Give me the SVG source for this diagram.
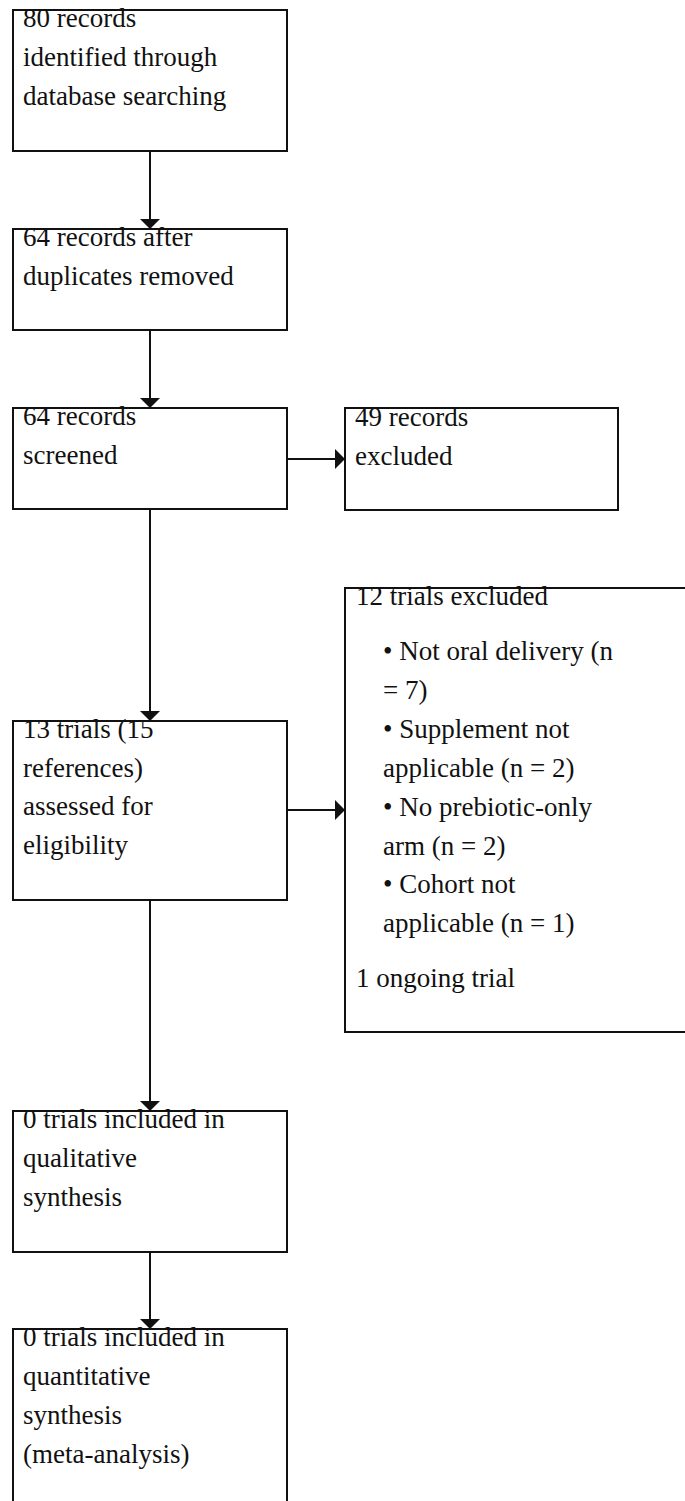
<svg xmlns="http://www.w3.org/2000/svg" width="685" height="1501" viewBox="0 0 685 1501">
<style>
.t{font-family:"Liberation Serif","Times New Roman",serif;font-size:27px;fill:#111}
.b{fill:none;stroke:#111;stroke-width:2}
.c{fill:none;stroke:#111;stroke-width:2}
</style>
<defs>
<marker id="ah" markerUnits="userSpaceOnUse" markerWidth="10" markerHeight="20" refX="10" refY="10" orient="auto">
<path d="M0,0 L10,10 L0,20 Z" fill="#111"/>
</marker>
</defs>
<rect x="0" y="0" width="685" height="1501" fill="#fff"/>
<g id="connectors">
<line class="c" x1="150" y1="151" x2="150" y2="229" marker-end="url(#ah)"/>
<line class="c" x1="150" y1="330" x2="150" y2="408" marker-end="url(#ah)"/>
<line class="c" x1="287" y1="459" x2="345" y2="459" marker-end="url(#ah)"/>
<line class="c" x1="150" y1="509" x2="150" y2="721" marker-end="url(#ah)"/>
<line class="c" x1="287" y1="810" x2="345" y2="810" marker-end="url(#ah)"/>
<line class="c" x1="150" y1="900" x2="150" y2="1111" marker-end="url(#ah)"/>
<line class="c" x1="150" y1="1252" x2="150" y2="1329" marker-end="url(#ah)"/>
</g>
<g id="n1">
<text class="t" x="23" y="27">80 records</text>
<text class="t" x="23" y="66">identified through</text>
<text class="t" x="23" y="105">database searching</text>
<rect class="b" x="13" y="10" width="274" height="141"/>
</g>
<g id="n2">
<text class="t" x="23" y="246">64 records after</text>
<text class="t" x="23" y="285">duplicates removed</text>
<rect class="b" x="13" y="229" width="274" height="101"/>
</g>
<g id="n3">
<text class="t" x="23" y="425">64 records</text>
<text class="t" x="23" y="464">screened</text>
<rect class="b" x="13" y="408" width="274" height="101"/>
</g>
<g id="n4">
<text class="t" x="355" y="426">49 records</text>
<text class="t" x="355" y="465">excluded</text>
<rect class="b" x="345" y="408" width="273" height="102"/>
</g>
<g id="n5">
<text class="t" x="23" y="738">13 trials (15</text>
<text class="t" x="23" y="777">references)</text>
<text class="t" x="23" y="815">assessed for</text>
<text class="t" x="23" y="854">eligibility</text>
<rect class="b" x="13" y="721" width="274" height="179"/>
</g>
<g id="n6">
<text class="t" x="356" y="605">12 trials excluded</text>
<text class="t" x="383" y="660">• Not oral delivery (n</text>
<text class="t" x="383" y="699">= 7)</text>
<text class="t" x="383" y="738">• Supplement not</text>
<text class="t" x="383" y="777">applicable (n = 2)</text>
<text class="t" x="383" y="816">• No prebiotic-only</text>
<text class="t" x="383" y="855">arm (n = 2)</text>
<text class="t" x="383" y="893">• Cohort not</text>
<text class="t" x="383" y="932">applicable (n = 1)</text>
<text class="t" x="356" y="987">1 ongoing trial</text>
<rect class="b" x="345" y="588" width="360" height="444"/>
</g>
<g id="n7">
<text class="t" x="23" y="1128">0 trials included in</text>
<text class="t" x="23" y="1167">qualitative</text>
<text class="t" x="23" y="1206">synthesis</text>
<rect class="b" x="13" y="1111" width="274" height="141"/>
</g>
<g id="n8">
<text class="t" x="23" y="1346">0 trials included in</text>
<text class="t" x="23" y="1385">quantitative</text>
<text class="t" x="23" y="1424">synthesis</text>
<text class="t" x="23" y="1463">(meta-analysis)</text>
<rect class="b" x="13" y="1329" width="274" height="190"/>
</g>
</svg>
